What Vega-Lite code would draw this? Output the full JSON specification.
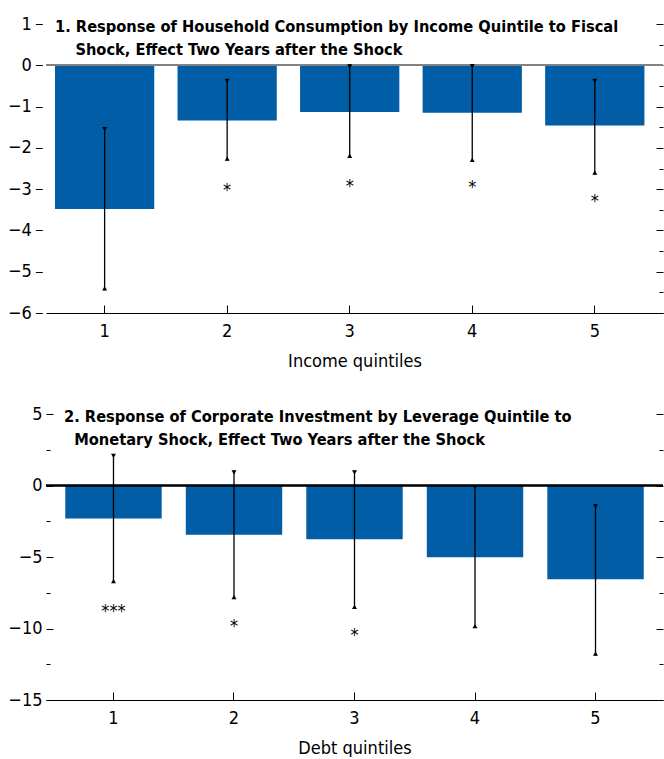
{
  "$schema": "https://vega.github.io/schema/vega-lite/v6.json",
  "padding": {"left": 7, "top": 15, "right": 0, "bottom": 0},
  "spacing": 35,
  "align": "none",
  "config": {
    "view": {"stroke": null},
    "font": "DejaVu Sans Condensed, Liberation Sans",
    "axis": {"labelFont": "DejaVu Sans Condensed, Liberation Sans", "titleFont": "DejaVu Sans Condensed, Liberation Sans", "labelColor": "black", "titleColor": "black", "tickColor": "black", "domainColor": "black", "grid": false, "labelFontSize": 18, "titleFontSize": 18, "titleFontWeight": "normal"},
    "title": {"font": "DejaVu Sans Condensed, Liberation Sans", "fontSize": 16.3, "fontWeight": "bold", "color": "black"}
  },
  "vconcat": [
    {
      "width": 617,
      "height": 289,
      "title": {"text": ["1. Response of Household Consumption by Income Quintile to Fiscal", "\u200b\u00a0\u00a0\u00a0\u00a0Shock, Effect Two Years after the Shock"], "anchor": "start", "frame": "group", "orient": "top", "baseline": "top", "offset": -43.5, "dx": 9, "lineHeight": 23.5},
      "data": {"values": [
        {"q": "1", "v": -3.48, "lo": -5.45, "hi": -1.5, "star": "", "stary": null},
        {"q": "2", "v": -1.34, "lo": -2.31, "hi": -0.33, "star": "*", "stary": -2.95},
        {"q": "3", "v": -1.13, "lo": -2.24, "hi": 0.02, "star": "*", "stary": -2.85},
        {"q": "4", "v": -1.15, "lo": -2.34, "hi": 0.03, "star": "*", "stary": -2.87},
        {"q": "5", "v": -1.46, "lo": -2.65, "hi": -0.33, "star": "*", "stary": -3.21}
      ]},
      "layer": [
        {
          "mark": {"type": "bar", "color": "#005da6"},
          "encoding": {
            "x": {"field": "q", "type": "nominal", "scale": {"paddingInner": 0.19, "paddingOuter": 0.1125, "align": 0.326}, "axis": {"orient": "bottom", "labelAngle": 0, "tickSize": -8, "labelPadding": 17, "title": "Income quintiles", "titlePadding": 12}},
            "y": {"field": "v", "type": "quantitative", "scale": {"domain": [-6, 1], "nice": false, "zero": false}, "axis": {"orient": "left", "offset": 10.7, "values": [-6, -5.5, -5, -4.5, -4, -3.5, -3, -2.5, -2, -1.5, -1, -0.5, 0, 0.5, 1], "format": "d", "labelExpr": "datum.value % 1 === 0 ? datum.label : ''", "tickSize": {"condition": {"test": "datum.value % 1 !== 0", "value": -4}, "value": -7}, "labelPadding": 11, "domain": false, "title": null}}
          }
        },
        {
          "mark": {"type": "rule", "color": "#808080", "strokeWidth": 1.5},
          "encoding": {"y": {"datum": 0, "type": "quantitative", "axis": null}}
        },
        {
          "mark": {"type": "rule", "color": "black", "strokeWidth": 1.3},
          "encoding": {
            "x": {"field": "q", "type": "nominal"},
            "y": {"field": "lo", "type": "quantitative", "axis": {"orient": "right", "values": [-6, -5.5, -5, -4.5, -4, -3.5, -3, -2.5, -2, -1.5, -1, -0.5, 0, 0.5, 1], "labels": false, "tickSize": {"condition": {"test": "datum.value % 1 !== 0", "value": -4}, "value": -7}, "domain": false, "title": null}},
            "y2": {"field": "hi"}
          }
        },
        {
          "mark": {"type": "point", "shape": "triangle-down", "filled": true, "color": "black", "size": 25, "opacity": 1, "yOffset": 2},
          "encoding": {"x": {"field": "q", "type": "nominal"}, "y": {"field": "hi", "type": "quantitative", "axis": null}}
        },
        {
          "mark": {"type": "point", "shape": "triangle-up", "filled": true, "color": "black", "size": 25, "opacity": 1, "yOffset": -2},
          "encoding": {"x": {"field": "q", "type": "nominal"}, "y": {"field": "lo", "type": "quantitative", "axis": null}}
        },
        {
          "mark": {"type": "text", "color": "black", "fontSize": 18, "baseline": "middle", "dy": 4, "font": "DejaVu Sans Condensed, Liberation Sans"},
          "encoding": {"x": {"field": "q", "type": "nominal"}, "y": {"field": "stary", "type": "quantitative", "axis": null}, "text": {"field": "star"}}
        }
      ],
      "resolve": {"axis": {"y": "independent"}}
    },
    {
      "width": 617,
      "height": 286,
      "title": {"text": ["2. Response of Corporate Investment by Leverage Quintile to", "\u200b\u00a0\u00a0Monetary Shock, Effect Two Years after the Shock"], "anchor": "start", "frame": "group", "orient": "top", "baseline": "top", "offset": -43.5, "dx": 18, "lineHeight": 23.5},
      "data": {"values": [
        {"q": "1", "v": -2.31, "lo": -6.83, "hi": 2.21, "star": "***", "stary": -8.59},
        {"q": "2", "v": -3.44, "lo": -7.94, "hi": 1.06, "star": "*", "stary": -9.62},
        {"q": "3", "v": -3.76, "lo": -8.63, "hi": 1.06, "star": "*", "stary": -10.24},
        {"q": "4", "v": -5.01, "lo": -9.97, "hi": 0.02, "star": "", "stary": null},
        {"q": "5", "v": -6.55, "lo": -11.9, "hi": -1.32, "star": "", "stary": null}
      ]},
      "layer": [
        {
          "mark": {"type": "bar", "color": "#005da6"},
          "encoding": {
            "x": {"field": "q", "type": "nominal", "scale": {"paddingInner": 0.2, "paddingOuter": 0.16}, "axis": {"orient": "bottom", "labelAngle": 0, "tickSize": -8, "labelPadding": 17, "title": "Debt quintiles", "titlePadding": 12}},
            "y": {"field": "v", "type": "quantitative", "scale": {"domain": [-15, 5], "nice": false, "zero": false}, "axis": {"orient": "left", "values": [-15, -12.5, -10, -7.5, -5, -2.5, 0, 2.5, 5], "format": "d", "labelExpr": "datum.value % 5 === 0 ? datum.label : ''", "tickSize": {"condition": {"test": "datum.value % 5 !== 0", "value": -4}, "value": -7}, "labelPadding": 11, "domain": false, "title": null}}
          }
        },
        {
          "mark": {"type": "rule", "color": "black", "strokeWidth": 1.5},
          "encoding": {"y": {"datum": 0, "type": "quantitative", "axis": null}}
        },
        {
          "mark": {"type": "rule", "color": "black", "strokeWidth": 1.3},
          "encoding": {
            "x": {"field": "q", "type": "nominal"},
            "y": {"field": "lo", "type": "quantitative", "axis": {"orient": "right", "values": [-15, -12.5, -10, -7.5, -5, -2.5, 0, 2.5, 5], "labels": false, "tickSize": {"condition": {"test": "datum.value % 5 !== 0", "value": -4}, "value": -7}, "domain": false, "title": null}},
            "y2": {"field": "hi"}
          }
        },
        {
          "mark": {"type": "point", "shape": "triangle-down", "filled": true, "color": "black", "size": 25, "opacity": 1, "yOffset": 2},
          "encoding": {"x": {"field": "q", "type": "nominal"}, "y": {"field": "hi", "type": "quantitative", "axis": null}}
        },
        {
          "mark": {"type": "point", "shape": "triangle-up", "filled": true, "color": "black", "size": 25, "opacity": 1, "yOffset": -2},
          "encoding": {"x": {"field": "q", "type": "nominal"}, "y": {"field": "lo", "type": "quantitative", "axis": null}}
        },
        {
          "mark": {"type": "text", "color": "black", "fontSize": 18, "baseline": "middle", "dy": 4, "font": "DejaVu Sans Condensed, Liberation Sans"},
          "encoding": {"x": {"field": "q", "type": "nominal"}, "y": {"field": "stary", "type": "quantitative", "axis": null}, "text": {"field": "star"}}
        }
      ],
      "resolve": {"axis": {"y": "independent"}}
    }
  ]
}
